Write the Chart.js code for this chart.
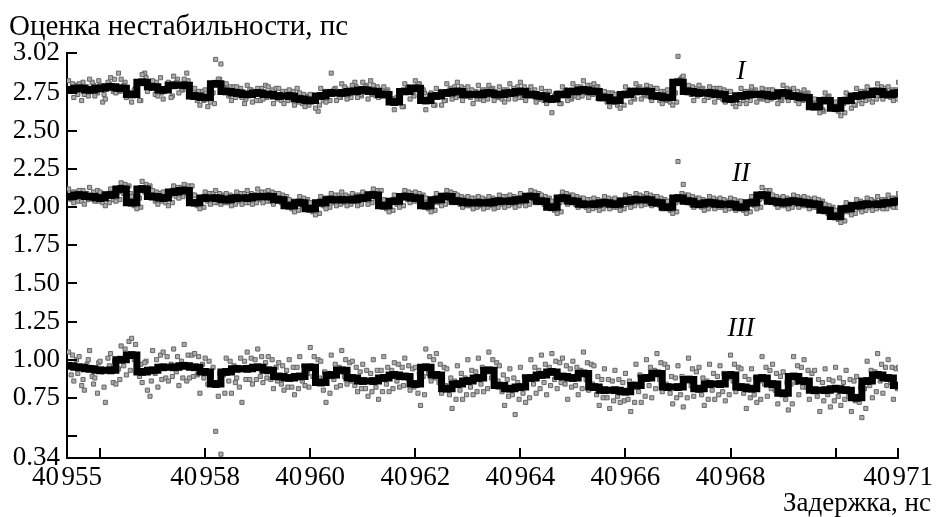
<!DOCTYPE html>
<html>
<head>
<meta charset="utf-8">
<script src="https://cdn.jsdelivr.net/npm/chart.js@4"></script>
<style>
  html, body { margin: 0; padding: 0; background: #fff; }
  #wrap { width: 937px; height: 517px; }
</style>
</head>
<body>
<div id="wrap"><canvas id="chartCanvas"></canvas></div>
<script>
// sample positions: gray points every 0.1 ns (three passes a/b/c, shifted), black curve every 0.2 ns
const xStart = 40955.4;
const grayStep = 0.1;
const lineStep = 0.2;

// axis ends and ticks as printed on the figure
const xMin = 40955.37, xMax = 40971.19;
const xTickValues = [40955.37, 40956, 40958, 40960, 40962, 40964, 40966, 40968, 40970, 40971.19];
const xTickLabels = ["40\u200A955", "", "40\u200A958", "40\u200A960", "40\u200A962", "40\u200A964", "40\u200A966", "40\u200A968", "", "40\u200A971"];
const yMin = 0.355, yMax = 3.012;
const yTickValues = [0.355, 0.5, 0.75, 1.0, 1.25, 1.5, 1.75, 2.0, 2.25, 2.5, 2.75, 3.012];
const yTickLabels = ["0.34", "", "0.75", "1.00", "1.25", "1.50", "1.75", "2.00", "2.25", "2.50", "2.75", "3.02"];

// smoothed curves (black)
const lineI = [2.77, 2.78, 2.77, 2.78, 2.79, 2.78, 2.74, 2.82, 2.79, 2.77,
    2.80, 2.80, 2.73, 2.72, 2.81, 2.76, 2.75, 2.74, 2.75, 2.74,
    2.73, 2.73, 2.71, 2.70, 2.73, 2.75, 2.75, 2.76, 2.77, 2.76,
    2.74, 2.69, 2.76, 2.78, 2.70, 2.73, 2.75, 2.76, 2.74, 2.74,
    2.75, 2.74, 2.75, 2.76, 2.74, 2.73, 2.71, 2.74, 2.76, 2.77,
    2.76, 2.72, 2.70, 2.74, 2.76, 2.76, 2.73, 2.72, 2.82, 2.76,
    2.75, 2.75, 2.74, 2.71, 2.73, 2.74, 2.74, 2.73, 2.75, 2.73,
    2.72, 2.66, 2.70, 2.65, 2.70, 2.73, 2.74, 2.76, 2.74, 2.75];
const lineII = [2.07, 2.08, 2.07, 2.06, 2.08, 2.12, 2.03, 2.12, 2.07, 2.06,
    2.10, 2.11, 2.03, 2.06, 2.06, 2.05, 2.06, 2.06, 2.07, 2.07,
    2.05, 2.01, 2.03, 1.99, 2.03, 2.05, 2.05, 2.05, 2.06, 2.08,
    2.01, 2.04, 2.07, 2.06, 2.01, 2.05, 2.07, 2.04, 2.03, 2.03,
    2.03, 2.04, 2.04, 2.05, 2.07, 2.04, 2.00, 2.06, 2.04, 2.02,
    2.02, 2.03, 2.02, 2.04, 2.05, 2.05, 2.03, 2.00, 2.06, 2.04,
    2.02, 2.03, 2.02, 2.02, 2.00, 2.03, 2.08, 2.04, 2.03, 2.04,
    2.03, 2.02, 1.98, 1.94, 1.99, 2.01, 2.02, 2.02, 2.03, 2.04];
const lineIII = [0.96, 0.95, 0.94, 0.93, 0.93, 1.00, 1.03, 0.92, 0.93, 0.95,
    0.95, 0.96, 0.95, 0.92, 0.84, 0.92, 0.94, 0.94, 0.95, 0.93,
    0.89, 0.88, 0.89, 0.95, 0.85, 0.90, 0.93, 0.88, 0.86, 0.86,
    0.88, 0.90, 0.89, 0.84, 0.95, 0.90, 0.81, 0.84, 0.86, 0.88,
    0.93, 0.83, 0.81, 0.82, 0.88, 0.90, 0.92, 0.89, 0.88, 0.91,
    0.82, 0.80, 0.80, 0.79, 0.83, 0.88, 0.91, 0.82, 0.82, 0.87,
    0.81, 0.84, 0.84, 0.90, 0.82, 0.81, 0.88, 0.84, 0.78, 0.89,
    0.86, 0.80, 0.80, 0.81, 0.80, 0.75, 0.86, 0.90, 0.88, 0.83];

// raw measurements (gray)
const grayIa = [2.83, 2.72, 2.81, 2.74, 2.84, 2.73, 2.80, 2.71, 2.85, 2.75,
    2.84, 2.72, 2.69, 2.79, 2.87, 2.76, 2.83, 2.73, 2.71, 2.82,
    2.86, 2.75, 2.84, 2.74, 2.78, 2.67, 2.77, 2.69, 2.97, 2.94,
    2.81, 2.70, 2.79, 2.72, 2.80, 2.69, 2.78, 2.71, 2.79, 2.68,
    2.78, 2.68, 2.77, 2.67, 2.75, 2.66, 2.74, 2.65, 2.78, 2.69,
    2.88, 2.70, 2.81, 2.71, 2.80, 2.72, 2.82, 2.71, 2.80, 2.72,
    2.79, 2.70, 2.64, 2.73, 2.81, 2.71, 2.83, 2.74, 2.64, 2.75,
    2.78, 2.67, 2.81, 2.71, 2.82, 2.70, 2.79, 2.68, 2.80, 2.70,
    2.80, 2.70, 2.79, 2.69, 2.81, 2.71, 2.82, 2.70, 2.79, 2.69,
    2.78, 2.68, 2.62, 2.75, 2.79, 2.70, 2.81, 2.72, 2.83, 2.72,
    2.81, 2.71, 2.76, 2.66, 2.74, 2.65, 2.79, 2.69, 2.81, 2.71,
    2.80, 2.70, 2.78, 2.68, 2.77, 2.67, 2.99, 2.86, 2.80, 2.70,
    2.80, 2.70, 2.79, 2.69, 2.78, 2.69, 2.76, 2.66, 2.78, 2.68,
    2.79, 2.69, 2.78, 2.70, 2.77, 2.68, 2.80, 2.70, 2.78, 2.68,
    2.77, 2.67, 2.71, 2.62, 2.75, 2.66, 2.69, 2.60, 2.75, 2.65,
    2.78, 2.68, 2.79, 2.69, 2.81, 2.71, 2.79, 2.70, 2.82];
const grayIb = [2.76, 2.80, 2.70, 2.79, 2.82, 2.75, 2.69, 2.82, 2.76, 2.88,
    2.80, 2.75, 2.77, 2.70, 2.88, 2.80, 2.74, 2.85, 2.78, 2.72,
    2.82, 2.77, 2.88, 2.72, 2.70, 2.76, 2.66, 2.75, 2.84, 2.78,
    2.73, 2.79, 2.76, 2.68, 2.77, 2.74, 2.70, 2.80, 2.75, 2.78,
    2.70, 2.76, 2.71, 2.78, 2.68, 2.73, 2.72, 2.63, 2.70, 2.76,
    2.77, 2.72, 2.79, 2.75, 2.82, 2.74, 2.79, 2.83, 2.73, 2.77,
    2.76, 2.71, 2.72, 2.66, 2.79, 2.75, 2.81, 2.77, 2.71, 2.67,
    2.74, 2.70, 2.77, 2.79, 2.73, 2.78, 2.72, 2.76, 2.71, 2.77,
    2.77, 2.73, 2.71, 2.77, 2.74, 2.79, 2.72, 2.77, 2.75, 2.71,
    2.70, 2.76, 2.73, 2.68, 2.77, 2.72, 2.73, 2.79, 2.75, 2.80,
    2.79, 2.73, 2.69, 2.75, 2.67, 2.73, 2.77, 2.72, 2.78, 2.74,
    2.73, 2.78, 2.70, 2.76, 2.69, 2.75, 2.84, 2.78, 2.74, 2.78,
    2.77, 2.72, 2.73, 2.78, 2.71, 2.76, 2.68, 2.74, 2.70, 2.76,
    2.76, 2.72, 2.71, 2.77, 2.75, 2.71, 2.73, 2.77, 2.70, 2.75,
    2.74, 2.70, 2.69, 2.64, 2.72, 2.67, 2.63, 2.68, 2.72, 2.67,
    2.70, 2.76, 2.71, 2.77, 2.73, 2.78, 2.72, 2.77, 2.74];
const grayIc = [2.81, 2.74, 2.82, 2.73, 2.80, 2.83, 2.74, 2.81, 2.84, 2.76,
    2.82, 2.74, 2.78, 2.70, 2.85, 2.78, 2.82, 2.75, 2.81, 2.73,
    2.84, 2.77, 2.83, 2.76, 2.76, 2.70, 2.75, 2.68, 2.84, 2.79,
    2.79, 2.72, 2.78, 2.71, 2.77, 2.70, 2.78, 2.72, 2.77, 2.71,
    2.76, 2.70, 2.76, 2.69, 2.74, 2.67, 2.73, 2.67, 2.76, 2.70,
    2.78, 2.72, 2.78, 2.72, 2.79, 2.73, 2.80, 2.74, 2.79, 2.73,
    2.77, 2.71, 2.72, 2.66, 2.79, 2.73, 2.81, 2.75, 2.73, 2.67,
    2.76, 2.70, 2.78, 2.72, 2.79, 2.73, 2.77, 2.71, 2.77, 2.71,
    2.78, 2.72, 2.77, 2.71, 2.78, 2.72, 2.79, 2.73, 2.77, 2.71,
    2.76, 2.70, 2.74, 2.68, 2.77, 2.71, 2.79, 2.73, 2.80, 2.74,
    2.79, 2.73, 2.75, 2.69, 2.73, 2.67, 2.77, 2.71, 2.79, 2.73,
    2.79, 2.73, 2.76, 2.70, 2.75, 2.69, 2.85, 2.79, 2.79, 2.73,
    2.78, 2.72, 2.78, 2.72, 2.77, 2.71, 2.74, 2.68, 2.76, 2.70,
    2.77, 2.71, 2.77, 2.71, 2.76, 2.70, 2.78, 2.72, 2.76, 2.70,
    2.75, 2.69, 2.69, 2.63, 2.73, 2.67, 2.68, 2.62, 2.73, 2.67,
    2.76, 2.70, 2.77, 2.71, 2.79, 2.73, 2.77, 2.71, 2.78];
const grayIIa = [2.12, 2.03, 2.11, 2.02, 2.13, 2.04, 2.10, 2.01, 2.12, 2.04,
    2.16, 2.08, 2.07, 1.99, 2.17, 2.08, 2.11, 2.02, 2.10, 2.01,
    2.14, 2.06, 2.15, 2.07, 2.08, 1.99, 2.10, 2.02, 2.11, 2.02,
    2.09, 2.01, 2.10, 2.02, 2.11, 2.02, 2.12, 2.03, 2.11, 2.02,
    2.09, 2.01, 2.05, 1.97, 2.07, 1.99, 2.03, 1.95, 2.07, 1.99,
    2.09, 2.01, 2.10, 2.01, 2.09, 2.01, 2.10, 2.02, 2.12, 2.04,
    2.05, 1.97, 2.08, 2.00, 2.11, 2.03, 2.10, 2.02, 2.06, 1.97,
    2.09, 2.01, 2.11, 2.03, 2.08, 2.00, 2.07, 1.99, 2.07, 1.99,
    2.07, 1.99, 2.08, 2.00, 2.08, 2.00, 2.09, 2.01, 2.11, 2.03,
    2.08, 2.00, 2.04, 1.96, 2.10, 2.02, 2.08, 2.00, 2.06, 1.98,
    2.06, 1.98, 2.07, 1.99, 2.06, 1.98, 2.08, 2.00, 2.09, 2.01,
    2.09, 2.01, 2.07, 1.99, 2.04, 1.96, 2.30, 2.15, 2.08, 2.00,
    2.06, 1.98, 2.07, 1.99, 2.06, 1.98, 2.06, 1.98, 2.04, 1.96,
    2.07, 1.99, 2.13, 2.04, 2.08, 2.00, 2.07, 1.99, 2.08, 2.00,
    2.07, 1.99, 2.06, 1.98, 2.02, 1.94, 1.98, 1.90, 2.03, 1.95,
    2.05, 1.97, 2.06, 1.98, 2.07, 1.99, 2.08, 2.00, 2.09];
const grayIIb = [2.05, 2.10, 2.04, 2.09, 2.06, 2.11, 2.03, 2.09, 2.05, 2.10,
    2.09, 2.14, 2.01, 2.06, 2.10, 2.14, 2.04, 2.09, 2.03, 2.08,
    2.07, 2.13, 2.09, 2.14, 2.01, 2.05, 2.04, 2.09, 2.03, 2.08,
    2.03, 2.07, 2.04, 2.09, 2.03, 2.08, 2.05, 2.10, 2.04, 2.09,
    2.03, 2.07, 1.99, 2.04, 2.01, 2.05, 1.97, 2.02, 2.01, 2.06,
    2.03, 2.08, 2.03, 2.07, 2.04, 2.08, 2.05, 2.09, 2.06, 2.11,
    1.99, 2.04, 2.02, 2.06, 2.05, 2.09, 2.04, 2.08, 1.99, 2.03,
    2.03, 2.08, 2.05, 2.09, 2.02, 2.06, 2.01, 2.06, 2.01, 2.05,
    2.01, 2.05, 2.02, 2.07, 2.02, 2.06, 2.03, 2.08, 2.05, 2.09,
    2.02, 2.06, 1.98, 2.03, 2.04, 2.08, 2.02, 2.06, 2.00, 2.05,
    2.00, 2.04, 2.01, 2.05, 2.00, 2.04, 2.02, 2.06, 2.03, 2.07,
    2.03, 2.07, 2.01, 2.05, 1.98, 2.03, 2.04, 2.08, 2.02, 2.06,
    2.00, 2.04, 2.01, 2.05, 2.00, 2.04, 2.00, 2.04, 1.98, 2.02,
    2.01, 2.05, 2.06, 2.11, 2.02, 2.06, 2.01, 2.05, 2.02, 2.06,
    2.01, 2.05, 2.00, 2.04, 1.96, 2.00, 1.92, 1.97, 1.97, 2.01,
    1.99, 2.03, 2.00, 2.04, 2.00, 2.05, 2.01, 2.06, 2.02];
const grayIIc = [2.10, 2.04, 2.11, 2.05, 2.10, 2.04, 2.09, 2.03, 2.11, 2.05,
    2.15, 2.09, 2.06, 2.00, 2.15, 2.09, 2.10, 2.04, 2.09, 2.03,
    2.13, 2.07, 2.14, 2.08, 2.06, 2.00, 2.09, 2.03, 2.09, 2.03,
    2.08, 2.02, 2.09, 2.03, 2.09, 2.03, 2.10, 2.04, 2.10, 2.04,
    2.08, 2.02, 2.04, 1.98, 2.06, 2.00, 2.02, 1.96, 2.06, 2.00,
    2.08, 2.02, 2.08, 2.02, 2.08, 2.02, 2.09, 2.03, 2.11, 2.05,
    2.04, 1.98, 2.07, 2.01, 2.10, 2.04, 2.09, 2.03, 2.04, 1.98,
    2.08, 2.02, 2.10, 2.04, 2.07, 2.01, 2.06, 2.00, 2.06, 2.00,
    2.06, 2.00, 2.07, 2.01, 2.07, 2.01, 2.08, 2.02, 2.10, 2.04,
    2.07, 2.01, 2.03, 1.97, 2.09, 2.03, 2.07, 2.01, 2.05, 1.99,
    2.05, 1.99, 2.06, 2.00, 2.05, 1.99, 2.07, 2.01, 2.08, 2.02,
    2.08, 2.02, 2.06, 2.00, 2.03, 1.97, 2.09, 2.03, 2.07, 2.01,
    2.05, 1.99, 2.06, 2.00, 2.05, 1.99, 2.05, 1.99, 2.03, 1.97,
    2.06, 2.00, 2.11, 2.05, 2.07, 2.01, 2.06, 2.00, 2.07, 2.01,
    2.06, 2.00, 2.05, 1.99, 2.01, 1.95, 1.97, 1.91, 2.02, 1.96,
    2.04, 1.98, 2.05, 1.99, 2.05, 1.99, 2.06, 2.00, 2.07];
const grayIIIa = [1.05, 0.86, 1.02, 0.80, 1.06, 0.88, 0.99, 0.72, 1.04, 0.84,
    1.09, 0.90, 1.14, 0.95, 0.85, 0.80, 1.06, 0.82, 1.05, 0.86,
    1.07, 0.83, 1.10, 0.88, 1.04, 0.78, 1.01, 0.86, 0.53, 0.38,
    1.01, 0.78, 0.88, 0.72, 1.05, 0.84, 1.07, 0.85, 1.02, 0.81,
    0.98, 0.80, 1.00, 0.77, 1.02, 0.83, 1.08, 0.86, 0.99, 0.72,
    1.03, 0.82, 1.06, 0.84, 0.99, 0.79, 0.97, 0.76, 1.00, 0.74,
    1.02, 0.79, 0.98, 0.82, 1.01, 0.80, 0.95, 0.70, 1.07, 0.86,
    1.04, 0.78, 0.94, 0.68, 0.96, 0.74, 1.00, 0.77, 1.01, 0.79,
    1.05, 0.84, 0.96, 0.70, 0.94, 0.64, 0.95, 0.72, 1.00, 0.78,
    1.03, 0.77, 1.04, 0.81, 1.01, 0.74, 0.99, 0.77, 1.05, 0.80,
    0.96, 0.70, 0.94, 0.68, 0.93, 0.72, 0.91, 0.66, 0.97, 0.72,
    1.00, 0.75, 1.04, 0.79, 0.95, 0.71, 0.96, 0.69, 1.01, 0.76,
    0.95, 0.70, 0.97, 0.74, 0.96, 0.73, 1.03, 0.79, 0.94, 0.68,
    0.94, 0.72, 1.02, 0.76, 0.97, 0.71, 0.92, 0.67, 1.02, 0.77,
    1.00, 0.74, 0.93, 0.66, 0.94, 0.69, 0.95, 0.70, 0.93, 0.66,
    0.89, 0.62, 0.99, 0.75, 1.04, 0.78, 1.00, 0.74, 0.95];
const grayIIIb = [0.90, 1.00, 0.83, 0.97, 0.89, 0.78, 0.92, 1.01, 0.85, 0.94,
    0.96, 1.12, 1.00, 0.89, 0.98, 0.76, 0.91, 1.03, 0.88, 0.97,
    0.92, 0.99, 0.86, 1.03, 0.90, 0.97, 0.84, 0.95, 0.76, 0.90,
    0.86, 0.96, 0.82, 0.99, 0.87, 1.00, 0.89, 0.98, 0.87, 0.95,
    0.84, 0.93, 0.82, 0.95, 0.86, 0.91, 0.89, 1.00, 0.80, 0.91,
    0.87, 0.95, 0.89, 0.98, 0.83, 0.92, 0.81, 0.91, 0.82, 0.93,
    0.84, 0.93, 0.86, 0.95, 0.88, 0.94, 0.78, 0.89, 0.91, 1.00,
    0.85, 0.95, 0.77, 0.86, 0.80, 0.88, 0.82, 0.92, 0.84, 0.93,
    0.88, 0.98, 0.79, 0.87, 0.77, 0.85, 0.78, 0.88, 0.84, 0.93,
    0.85, 0.95, 0.87, 0.98, 0.84, 0.94, 0.83, 0.93, 0.87, 0.97,
    0.77, 0.87, 0.75, 0.86, 0.76, 0.85, 0.74, 0.84, 0.79, 0.88,
    0.83, 0.93, 0.87, 0.97, 0.78, 0.88, 0.77, 0.87, 0.83, 0.92,
    0.77, 0.86, 0.80, 0.89, 0.79, 0.88, 0.86, 0.95, 0.78, 0.87,
    0.77, 0.86, 0.84, 0.93, 0.80, 0.89, 0.74, 0.84, 0.85, 0.95,
    0.82, 0.91, 0.76, 0.85, 0.77, 0.86, 0.76, 0.85, 0.76, 0.86,
    0.72, 0.81, 0.83, 0.92, 0.86, 0.95, 0.85, 0.94, 0.80];
const grayIIIc = [1.03, 0.91, 0.87, 1.00, 0.84, 0.98, 0.82, 0.96, 0.99, 0.87,
    1.07, 0.93, 1.10, 0.97, 0.99, 0.86, 1.00, 0.87, 1.02, 0.89,
    1.02, 0.88, 1.03, 0.89, 1.02, 0.88, 0.99, 0.85, 0.91, 0.78,
    0.99, 0.85, 1.01, 0.87, 1.01, 0.87, 1.02, 0.88, 1.00, 0.86,
    0.96, 0.82, 0.95, 0.81, 0.96, 0.82, 1.02, 0.88, 0.92, 0.78,
    0.97, 0.83, 1.00, 0.86, 0.95, 0.81, 0.93, 0.79, 0.93, 0.79,
    0.95, 0.81, 0.97, 0.83, 0.96, 0.82, 0.91, 0.77, 1.02, 0.88,
    0.97, 0.83, 0.88, 0.74, 0.91, 0.77, 0.93, 0.79, 0.95, 0.81,
    1.00, 0.86, 0.90, 0.76, 0.88, 0.74, 0.89, 0.75, 0.95, 0.81,
    0.97, 0.83, 0.99, 0.85, 0.96, 0.82, 0.95, 0.81, 0.98, 0.84,
    0.89, 0.75, 0.87, 0.73, 0.87, 0.73, 0.86, 0.72, 0.90, 0.76,
    0.95, 0.81, 0.98, 0.84, 0.89, 0.75, 0.89, 0.75, 0.94, 0.80,
    0.88, 0.74, 0.91, 0.77, 0.91, 0.77, 0.97, 0.83, 0.89, 0.75,
    0.88, 0.74, 0.95, 0.81, 0.91, 0.77, 0.85, 0.71, 0.96, 0.82,
    0.93, 0.79, 0.87, 0.73, 0.87, 0.73, 0.88, 0.74, 0.87, 0.73,
    0.82, 0.68, 0.93, 0.79, 0.97, 0.83, 0.95, 0.81, 0.90];

// curve names placed at (x, y) in data units
const seriesNames = ["I", "II", "III"];
const namePosX = [40968.2, 40968.2, 40968.2];
const namePosY = [2.887, 2.217, 1.201];

const yTitle = "Оценка нестабильности, пс";
const xTitle = "Задержка, нс";

const serif = "'Liberation Serif', 'Times New Roman', serif";

function toPoints(values, start, step) {
    return values.map((v, i) => ({ x: start + i * step, y: v }));
}

function grayDataset(values, shift) {
    return {
        type: 'scatter',
        data: toPoints(values, xStart + shift, grayStep),
        pointStyle: 'rect',
        pointRadius: 2.9,
        borderWidth: 1,
        borderColor: '#666666',
        backgroundColor: '#acacac',
        showLine: false,
        order: 2
    };
}

function blackDataset(values) {
    return {
        type: 'line',
        data: toPoints(values, xStart, lineStep),
        borderColor: '#000',
        borderWidth: 7,
        backgroundColor: '#000',
        pointStyle: 'rect',
        pointRadius: 5.5,
        pointBorderWidth: 0,
        stepped: 'middle',
        order: 1
    };
}

// inward tick marks, axis titles and curve names
const decorPlugin = {
    id: 'decor',
    afterDraw(chart) {
        const ctx = chart.ctx;
        const xs = chart.scales.x, ys = chart.scales.y;
        const area = chart.chartArea;
        ctx.save();
        ctx.strokeStyle = '#000';
        ctx.lineWidth = 2;
        ctx.beginPath();
        xTickValues.forEach((v, i) => {
            if (i === 0) return;
            const px = Math.round(xs.getPixelForValue(v));
            ctx.moveTo(px, area.bottom);
            ctx.lineTo(px, area.bottom - 10);
        });
        yTickValues.forEach((v, i) => {
            if (i === 0) return;
            const py = Math.round(ys.getPixelForValue(v));
            ctx.moveTo(area.left, py);
            ctx.lineTo(area.left + 10, py);
        });
        ctx.stroke();

        ctx.fillStyle = '#000';
        ctx.font = "29px " + serif;
        ctx.textBaseline = 'alphabetic';
        ctx.textAlign = 'left';
        ctx.fillText(yTitle, 9, 35);
        ctx.font = "27px " + serif;
        ctx.textAlign = 'right';
        ctx.fillText(xTitle, 931, 511);

        ctx.font = "italic 27px " + serif;
        ctx.textAlign = 'center';
        ctx.textBaseline = 'middle';
        seriesNames.forEach((name, i) => {
            ctx.fillText(name, xs.getPixelForValue(namePosX[i]), ys.getPixelForValue(namePosY[i]));
        });
        ctx.restore();
    }
};

new Chart(document.getElementById("chartCanvas"), {
    data: {
        datasets: [
            blackDataset(lineI), blackDataset(lineII), blackDataset(lineIII),
            grayDataset(grayIa, 0), grayDataset(grayIb, grayStep / 2), grayDataset(grayIc, grayStep * 0.75),
            grayDataset(grayIIa, 0), grayDataset(grayIIb, grayStep / 2), grayDataset(grayIIc, grayStep * 0.75),
            grayDataset(grayIIIa, 0), grayDataset(grayIIIb, grayStep / 2), grayDataset(grayIIIc, grayStep * 0.75)
        ]
    },
    options: {
        responsive: true,
        maintainAspectRatio: false,
        animation: false,
        layout: { padding: { left: 0, right: 36, top: 53, bottom: 0 } },
        plugins: {
            legend: { display: false },
            tooltip: { enabled: false }
        },
        scales: {
            x: {
                type: 'linear',
                min: xMin,
                max: xMax,
                grid: { display: false, drawTicks: false },
                border: { display: true, color: '#000', width: 2 },
                afterBuildTicks(scale) {
                    scale.ticks = xTickValues.map(v => ({ value: v }));
                },
                afterFit(scale) { scale.height = 59; },
                ticks: {
                    autoSkip: false,
                    maxRotation: 0,
                    padding: 4,
                    color: '#000',
                    font: { family: serif, size: 27 },
                    callback: (val, idx) => xTickLabels[idx]
                }
            },
            y: {
                type: 'linear',
                min: yMin,
                max: yMax,
                grid: { display: false, drawTicks: false },
                border: { display: true, color: '#000', width: 2 },
                afterBuildTicks(scale) {
                    scale.ticks = yTickValues.map(v => ({ value: v }));
                },
                afterFit(scale) { scale.width = 67; },
                ticks: {
                    autoSkip: false,
                    padding: 7,
                    color: '#000',
                    font: { family: serif, size: 27 },
                    callback: (val, idx) => yTickLabels[idx]
                }
            }
        }
    },
    plugins: [decorPlugin]
});
</script>
</body>
</html>
